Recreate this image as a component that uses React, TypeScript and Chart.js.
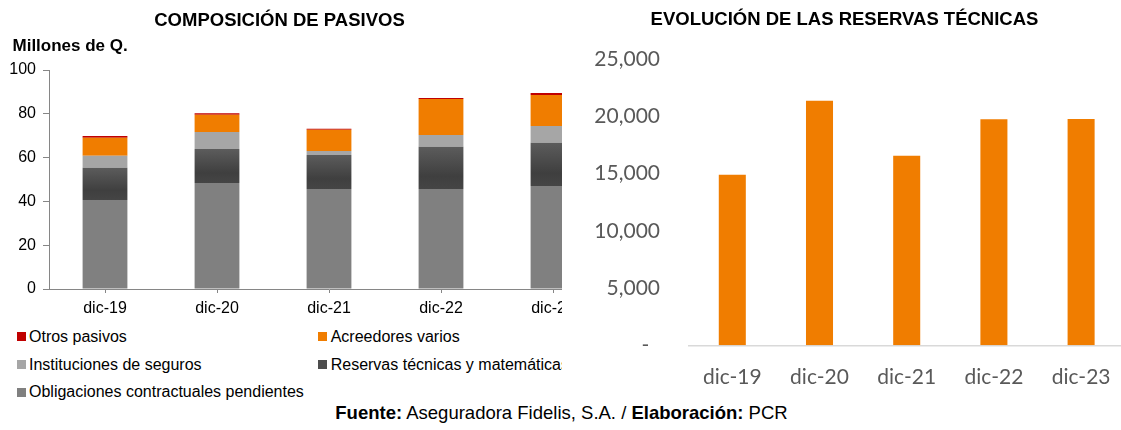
import React, { useEffect, useRef } from 'react';
import { Chart, registerables } from 'chart.js';

Chart.register(...registerables);

// ---------- data ----------
const categories = ['dic-19', 'dic-20', 'dic-21', 'dic-22', 'dic-23'];

// Composición de pasivos (millones de Q.)
const obligaciones = [40.6, 48.4, 45.7, 45.7, 47.0];
const reservasMat = [14.8, 15.5, 15.5, 19.3, 19.8];
const instituciones = [5.5, 7.8, 1.8, 5.3, 7.6];
const acreedores = [8.2, 7.9, 9.7, 16.5, 14.2];
const otros = [0.8, 0.6, 0.5, 0.4, 0.9];
const leftTicks = [0, 20, 40, 60, 80, 100];

// Evolución de las reservas técnicas
const reservasTecnicas = [14900, 21350, 16550, 19740, 19760];
const rightTicks = [0, 5000, 10000, 15000, 20000, 25000];

const legendRows = [
  [
    { label: 'Otros pasivos', color: '#c00000' },
    { label: 'Acreedores varios', color: '#f07d00' },
  ],
  [
    { label: 'Instituciones de seguros', color: '#a6a6a6' },
    { label: 'Reservas técnicas y matemáticas', color: '#4d4d4d' },
  ],
  [{ label: 'Obligaciones contractuales pendientes', color: '#808080' }],
];

const ARIAL = '"Liberation Sans", Arial, Helvetica, sans-serif';
const CALIBRI = 'Lato, "Open Sans", sans-serif';

function LeftChart() {
  const ref = useRef<HTMLCanvasElement | null>(null);
  useEffect(() => {
    if (!ref.current) return;
    const gradFn = (c: any) => {
      const chart = c.chart;
      const ys = chart.scales && chart.scales.y;
      const i = c.dataIndex;
      if (!ys || i === undefined || !chart.ctx) return '#4d4d4d';
      const yBot = ys.getPixelForValue(obligaciones[i]);
      const yTop = ys.getPixelForValue(obligaciones[i] + reservasMat[i]);
      if (!isFinite(yBot) || !isFinite(yTop) || yBot === yTop) return '#4d4d4d';
      const g = chart.ctx.createLinearGradient(0, yTop, 0, yBot);
      g.addColorStop(0, '#5c5c5c');
      g.addColorStop(0.7, '#3f3f3f');
      g.addColorStop(1, '#454545');
      return g;
    };
    const chart = new Chart(ref.current, {
      type: 'bar',
      data: {
        labels: categories,
        datasets: [
          { label: 'Obligaciones contractuales pendientes', data: obligaciones, backgroundColor: '#808080' },
          { label: 'Reservas técnicas y matemáticas', data: reservasMat, backgroundColor: gradFn as any },
          { label: 'Instituciones de seguros', data: instituciones, backgroundColor: '#a6a6a6' },
          { label: 'Acreedores varios', data: acreedores, backgroundColor: '#f07d00' },
          { label: 'Otros pasivos', data: otros, backgroundColor: '#c00000' },
        ],
      },
      options: {
        animation: false,
        responsive: false,
        maintainAspectRatio: false,
        layout: { padding: { top: 70, right: 11, left: 0, bottom: 0 } },
        datasets: { bar: { barPercentage: 0.4, categoryPercentage: 1 } },
        plugins: { legend: { display: false }, tooltip: { enabled: false } },
        scales: {
          x: {
            stacked: true,
            grid: { display: true, drawOnChartArea: false, offset: false, tickLength: 4, color: '#868686' },
            border: { color: '#868686', width: 1 },
            ticks: { font: { family: ARIAL, size: 16 }, color: '#000', padding: 6, maxRotation: 0, autoSkip: false },
            afterFit: (s: any) => { s.height = 31; },
          },
          y: {
            stacked: true,
            min: 0,
            max: 100,
            afterBuildTicks: (s: any) => { s.ticks = leftTicks.map((v) => ({ value: v })); },
            grid: { display: true, drawOnChartArea: false, tickLength: 6, color: '#868686' },
            border: { color: '#868686', width: 1 },
            ticks: { font: { family: ARIAL, size: 16 }, color: '#000', padding: 7 },
            afterFit: (s: any) => { s.width = 49; },
          },
        },
      },
    });
    return () => chart.destroy();
  }, []);
  return <canvas ref={ref} width={620} height={320} style={{ position: 'absolute', left: 0, top: 0, width: 620, height: 320 }} />;
}

function RightChart() {
  const ref = useRef<HTMLCanvasElement | null>(null);
  useEffect(() => {
    if (!ref.current) return;
    const chart = new Chart(ref.current, {
      type: 'bar',
      data: {
        labels: categories,
        datasets: [
          { label: 'Reservas técnicas', data: reservasTecnicas, backgroundColor: '#f07d00', barPercentage: 0.31, categoryPercentage: 1 },
        ],
      },
      options: {
        animation: false,
        responsive: false,
        maintainAspectRatio: false,
        layout: { padding: { top: 59, right: 4.8, left: 0, bottom: 0 } },
        plugins: { legend: { display: false }, tooltip: { enabled: false } },
        scales: {
          x: {
            grid: { display: false, drawTicks: false },
            border: { color: '#d9d9d9', width: 1.5 },
            ticks: { font: { family: CALIBRI, size: 21 }, color: '#595959', padding: 19, maxRotation: 0, autoSkip: false },
            afterFit: (s: any) => { s.height = 54.7; },
          },
          y: {
            min: 0,
            max: 25000,
            afterBuildTicks: (s: any) => { s.ticks = rightTicks.map((v) => ({ value: v })); },
            grid: { display: false, drawTicks: false },
            border: { display: false },
            ticks: {
              font: { family: CALIBRI, size: 21 },
              color: '#595959',
              padding: 28.7,
              callback: (v: any) => (Number(v) === 0 ? '-  ' : Number(v).toLocaleString('en-US')),
            },
            afterFit: (s: any) => { s.width = 108.7; },
          },
        },
      },
    });
    return () => chart.destroy();
  }, []);
  return <canvas ref={ref} width={550} height={400} style={{ position: 'absolute', left: 0, top: 0, width: 550, height: 400 }} />;
}

export default function App() {
  const abs: React.CSSProperties = { position: 'absolute', whiteSpace: 'nowrap' };
  return (
    <div style={{ position: 'absolute', left: 0, top: 0, width: 1121, height: 430, overflow: 'hidden', background: '#fff', fontFamily: ARIAL, color: '#000' }}>
      {/* left panel */}
      <div style={{ position: 'absolute', left: 0, top: 0, width: 562, height: 405, overflow: 'hidden' }}>
        <LeftChart />
        <div style={{ ...abs, left: 0, width: 559, top: 9, lineHeight: '22px', fontSize: 18.5, fontWeight: 'bold', textAlign: 'center' }}>
          COMPOSICIÓN DE PASIVOS
        </div>
        <div style={{ ...abs, left: 12.5, top: 35.5, lineHeight: '20px', fontSize: 17, fontWeight: 'bold' }}>Millones de Q.</div>
        {legendRows.map((row, r) =>
          row.map((item, c) => {
            const cy = 336.7 + r * 27.8;
            const sx = c === 0 ? 17.3 : 318.3;
            const tx = c === 0 ? 29 : 330.7;
            return (
              <React.Fragment key={r + '-' + c}>
                <div style={{ position: 'absolute', left: sx, top: cy - 4.3, width: 9, height: 9, background: item.color }} />
                <div style={{ ...abs, left: tx, top: cy - 10, lineHeight: '20px', fontSize: 16 }}>{item.label}</div>
              </React.Fragment>
            );
          })
        )}
      </div>
      {/* right panel */}
      <div style={{ position: 'absolute', left: 580, top: 0, width: 541, height: 400, overflow: 'hidden' }}>
        <RightChart />
      </div>
      <div style={{ ...abs, left: 600, width: 489, top: 8, lineHeight: '22px', fontSize: 18.5, fontWeight: 'bold', textAlign: 'center' }}>
        EVOLUCIÓN DE LAS RESERVAS TÉCNICAS
      </div>
      {/* footer */}
      <div style={{ ...abs, left: 200, width: 723, top: 402, lineHeight: '22px', fontSize: 18.5, textAlign: 'center' }}>
        <b>Fuente:</b> Aseguradora Fidelis, S.A. / <b>Elaboración:</b> PCR
      </div>
    </div>
  );
}
